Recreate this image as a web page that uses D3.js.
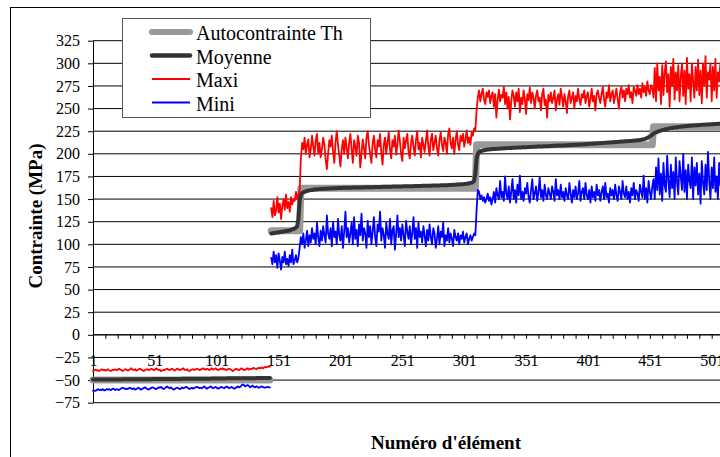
<!DOCTYPE html>
<html><head><meta charset="utf-8">
<script src="https://cdn.jsdelivr.net/npm/d3@7"></script>
<style>
html,body{margin:0;padding:0;background:#fff;overflow:hidden}
svg{display:block}
svg text{font-family:"Liberation Serif","Times New Roman",Times,serif !important;fill:#000}
</style></head><body>
<svg id="chart" width="720" height="457"></svg>
<script>
// ---------- DATA ----------
const yTicks = [-75,-50,-25,0,25,50,75,100,125,150,175,200,225,250,275,300,325];
const xTickLabels = [1,51,101,151,201,251,301,351,401,451,501];
const seriesNames = ["Autocontrainte Th","Moyenne","Maxi","Mini"];
const xTitle = "Numéro d'élément";
const yTitle = "Contrainte (MPa)";
const negStart = 1;    // first element of the negative (left) zone
const posStart = 145;  // first element of the positive (right) zone

const thNeg = [
-50,-50,-50,-50,-50,-50,-50,-50,-50,-50,-50,-50,-50,-50,-50,-50,-50,-50,-50,-50,-50,-50,-50,-50,
-50,-50,-50,-50,-50,-50,-50,-50,-50,-50,-50,-50,-50,-50,-50,-50,-50,-50,-50,-50,-50,-50,-50,-50,
-50,-50,-50,-50,-50,-50,-50,-50,-50,-50,-50,-50,-50,-50,-50,-50,-50,-50,-50,-50,-50,-50,-50,-50,
-50,-50,-50,-50,-50,-50,-50,-50,-50,-50,-50,-50,-50,-50,-50,-50,-50,-50,-50,-50,-50,-50,-50,-50,
-50,-50,-50,-50,-50,-50,-50,-50,-50,-50,-50,-50,-50,-50,-50,-50,-50,-50,-50,-50,-50,-50,-50,-50,
-50,-50,-50,-50,-50,-50,-50,-50,-50,-50,-50,-50,-50,-50,-50,-50,-50,-50,-50,-50,-50,-50,-50,-50];

const moyNeg = [
-49.5,-49.5,-49.5,-49.5,-49.5,-49.5,-49.5,-49.5,-49.5,-49.5,-49.5,-49.5,
-49.3,-49.3,-49.3,-49.3,-49.3,-49.3,-49.3,-49.3,-49.3,-49.3,-49.3,-49.3,
-49.2,-49.2,-49.2,-49.2,-49.2,-49.2,-49.2,-49.2,-49.2,-49.2,-49.2,-49.2,
-49.0,-49.0,-49.0,-49.0,-49.0,-49.0,-49.0,-49.0,-49.0,-49.0,-49.0,-49.0,
-48.9,-48.9,-48.9,-48.9,-48.9,-48.9,-48.9,-48.9,-48.9,-48.9,-48.9,-48.9,
-48.7,-48.7,-48.7,-48.7,-48.7,-48.7,-48.7,-48.7,-48.7,-48.7,-48.7,-48.7,
-48.6,-48.6,-48.6,-48.6,-48.6,-48.6,-48.6,-48.6,-48.6,-48.6,-48.6,-48.6,
-48.4,-48.4,-48.4,-48.4,-48.4,-48.4,-48.4,-48.4,-48.4,-48.4,-48.4,-48.4,
-48.3,-48.3,-48.3,-48.3,-48.3,-48.3,-48.3,-48.3,-48.3,-48.3,-48.3,-48.3,
-48.1,-48.1,-48.1,-48.1,-48.1,-48.1,-48.1,-48.1,-48.1,-48.1,-48.1,-48.1,
-47.9,-47.9,-47.9,-47.9,-47.9,-47.9,-47.9,-47.9,-47.9,-47.9,-47.9,-47.9,
-47.7,-47.7,-47.7,-47.7,-47.7,-47.7,-47.7,-47.7,-47.7,-47.7,-47.7,-47.7];

const maxiNeg = [
-40,-39,-38.5,-39.5,-39,-40,-39,-38,-39,-38.5,-39.5,-39,
-38,-39,-40,-39.5,-38.5,-39,-38,-39,-38.5,-37.5,-38.5,-39,
-40,-39,-38,-38.5,-39.5,-39,-38,-37,-38.5,-39,-38,-39.5,
-39,-38,-37.5,-38.5,-39,-40,-39,-38.5,-38,-39,-38.5,-37.5,
-38,-39,-38.5,-37,-38,-39,-38.5,-40,-39.5,-38.5,-39,-38,
-37.5,-38.5,-39,-38,-37.5,-38.5,-39.5,-38.5,-37.5,-38,-39,-38.5,
-38,-37,-38.5,-39,-38,-39.5,-40,-39,-38.5,-38,-39,-38,
-37.5,-38,-39,-38.5,-37.5,-37,-38,-38.5,-37.5,-38,-39,-38,
-37,-38.5,-38,-37,-38,-39,-38.5,-37.5,-38,-37,-38.5,-38,
-39,-38,-37.5,-38,-39,-40,-39,-38,-37.5,-38.5,-39,-38,
-37,-38,-39,-38.5,-38,-37,-38.5,-37.5,-38,-37,-36.5,-37.5,
-38,-37,-36.5,-37,-36,-37,-36.5,-35.5,-36,-35.5,-35,-35];

const miniNeg = [
-62,-61.5,-62,-61,-60,-61,-60.5,-61,-60,-61.5,-61,-60,
-60.5,-60,-61,-60.5,-59.5,-60,-61,-60,-60.5,-61,-60,-59,
-58.5,-59,-60,-59.5,-60,-59,-58.5,-59.5,-60,-59,-60.5,-60,
-59,-58.5,-60,-60.5,-59.5,-59,-58,-59,-60,-60.5,-59.5,-59,
-58,-58.5,-59.5,-60,-59,-58,-58.5,-57.5,-59,-60,-59,-58,
-57,-58.5,-59,-58,-59.5,-60.5,-60,-59,-58.5,-59,-60,-59.5,
-58,-59,-58.5,-57.5,-58,-59,-60,-59,-58.5,-59.5,-58.5,-58,
-57.5,-58,-59,-58.5,-59,-58,-57,-58.5,-59.5,-58.5,-58,-57,
-58,-59,-58.5,-57.5,-58.5,-59.5,-59,-58,-57.5,-58.5,-59,-58,
-57,-58,-59,-58.5,-57.5,-58.5,-59.5,-59,-58,-57,-58,-57.5,
-56,-55,-55.5,-57,-56,-55.5,-56.5,-58,-57,-56,-57.5,-58,
-57,-57.5,-58.5,-58,-57,-57.5,-58,-58.5,-58,-57.5,-58,-58];

const thPos = [
115,115,115,115,115,115,115,115,115,115,115,115,115,115,115,115,115,115,115,115,115,115,115,115,
162,162,162,162,162,162,162,162,162,162,162,162,162,162,162,162,162,162,162,162,162,162,162,162,
162,162,162,162,162,162,162,162,162,162,162,162,162,162,162,162,162,162,162,162,162,162,162,162,
162,162,162,162,162,162,162,162,162,162,162,162,162,162,162,162,162,162,162,162,162,162,162,162,
162,162,162,162,162,162,162,162,162,162,162,162,162,162,162,162,162,162,162,162,162,162,162,162,
162,162,162,162,162,162,162,162,162,162,162,162,162,162,162,162,162,162,162,162,162,162,162,162,
162,162,162,162,162,162,162,162,162,162,162,162,162,162,162,162,162,162,162,162,162,162,
210,210,210,210,210,210,210,210,210,210,210,210,210,210,210,210,210,210,210,210,210,210,210,210,
210,210,210,210,210,210,210,210,210,210,210,210,210,210,210,210,210,210,210,210,210,210,210,210,
210,210,210,210,210,210,210,210,210,210,210,210,210,210,210,210,210,210,210,210,210,210,210,210,
210,210,210,210,210,210,210,210,210,210,210,210,210,210,210,210,210,210,210,210,210,210,210,210,
210,210,210,210,210,210,210,210,210,210,210,210,210,210,210,210,210,210,210,210,210,210,210,210,
210,210,210,210,210,210,210,210,210,210,210,210,210,210,210,210,210,210,210,210,210,210,210,
230,230,230,230,230,230,230,230,230,230,230,230,230,230,230,230,230,230,230,230,230,230,230,230,
230,230,230,230,230,230,230,230,230,230,230,230,230,230,230,230,230,230,230,230,230,230,230,230,
230,230,230,230,230,230,230,230,230,230,230];

const moyPos = [
112,112,112.5,112.5,113,113,113,113.5,113.5,114,114,114.5,114.5,115,115,115.5,116,116.5,117,117.5,118.5,120,128,148,
155,156.5,157.5,158,158.5,159,159.3,159.6,159.9,160.1,
160.3,160.5,160.7,160.8,160.9,161,161.1,161.2,161.3,161.4,161.5,161.5,161.6,161.7,161.8,161.8,161.9,162,162,162.1,
162.2,162.2,162.3,162.3,162.4,162.4,162.5,162.5,162.5,162.6,162.6,162.6,162.7,162.7,162.7,162.8,162.8,162.8,162.9,162.9,
162.9,163,163,163,163.1,163.1,163.1,163.2,163.2,163.2,163.3,163.3,163.3,163.4,163.4,163.4,163.5,163.5,163.5,163.6,
163.6,163.7,163.7,163.7,163.8,163.8,163.8,163.9,163.9,163.9,164,164,164,164.1,164.1,164.1,164.2,164.2,164.2,164.3,
164.3,164.3,164.4,164.4,164.4,164.5,164.5,164.5,164.6,164.6,164.6,164.7,164.7,164.7,164.8,164.8,164.9,164.9,165,165,
165,165.1,165.1,165.2,165.2,165.3,165.3,165.4,165.4,165.5,165.5,165.6,165.6,165.7,165.8,165.9,166,166.1,166.2,166.3,
166.4,166.5,166.6,166.8,167,167.2,167.5,167.8,168.2,168.8,170,178,
195,200,202,202.8,203.3,203.7,204,204.3,204.5,204.7,
204.9,205,205.1,205.2,205.3,205.4,205.5,205.6,205.7,205.8,205.9,206,206.1,206.1,206.2,206.3,206.4,206.4,206.5,206.6,
206.7,206.7,206.8,206.9,207,207,207.1,207.2,207.2,207.3,207.4,207.4,207.5,207.6,207.6,207.7,207.8,207.8,207.9,208,
208,208.1,208.1,208.2,208.3,208.3,208.4,208.5,208.5,208.6,208.7,208.7,208.8,208.9,208.9,209,209.1,209.1,209.2,209.3,
209.3,209.4,209.5,209.5,209.6,209.7,209.7,209.8,209.9,209.9,210,210.1,210.1,210.2,210.3,210.3,210.4,210.5,210.5,210.6,
210.8,210.9,211,211.1,211.2,211.3,211.4,211.5,211.6,211.7,211.8,211.9,212,212.1,212.2,212.3,212.4,212.5,212.6,212.7,
212.8,212.9,213,213.1,213.2,213.3,213.4,213.5,213.6,213.7,213.8,213.9,214,214.1,214.2,214.3,214.4,214.5,214.6,214.7,
214.9,215.1,215.3,215.5,215.8,216.1,216.5,217,217.6,218.3,219.2,220.2,221.2,
222.2,223,223.7,224.3,224.8,225.3,225.7,226.1,226.5,226.9,227.2,227.5,227.8,228.1,228.4,228.6,228.8,229,229.2,229.4,
229.6,229.8,230,230.1,230.3,230.4,230.6,230.7,230.8,231,231.1,231.2,231.3,231.4,231.5,231.6,231.7,231.8,231.9,232,
232.1,232.2,232.3,232.4,232.5,232.5,232.6,232.7,232.8,232.9,232.9,233,233.1,233.2,233.2,233.3,233.4,233.4,233.5];

const maxiPos = [
140,130,148,132,138,152,135,145,128,142,150,138,155,140,147,136,152,144,150,148,158,150,155,160,
195,212,205,218,200,210,216,196,205,220,
208,198,215,222,200,212,196,205,218,210,
194,183,200,215,208,220,202,190,213,225,
210,198,186,205,215,200,218,207,195,212,
222,205,190,215,208,198,220,212,185,200,
216,206,195,218,225,210,200,190,212,220,
205,196,215,208,222,201,188,210,218,200,
212,224,205,195,215,208,220,199,210,226,
214,200,192,218,206,215,222,202,195,212,
220,208,198,215,225,205,212,196,218,210,
202,214,226,208,198,216,222,204,212,220,
206,198,215,224,210,203,218,212,200,222,
228,212,206,218,200,215,225,210,204,220,
214,222,208,216,226,212,218,210,224,220,
228,226,
248,262,270,258,266,272,260,255,268,263,
270,256,264,268,252,266,240,260,271,258,
265,262,274,255,268,250,263,238,258,270,
264,252,268,258,272,246,262,255,270,260,
244,266,259,273,256,268,262,250,264,270,
258,262,248,266,272,254,260,240,265,258,
268,256,262,270,248,260,266,254,272,262,
252,266,258,245,264,270,256,262,268,250,
264,258,272,260,254,266,262,270,256,264,
268,252,260,272,258,264,248,266,270,262,
256,266,274,260,252,268,262,276,258,266,
270,256,264,272,260,250,268,274,262,270,
258,272,266,276,262,268,256,274,270,264,
276,266,272,262,278,268,274,264,280,270,
266,276,272,
262,295,258,300,270,285,255,298,265,290,
302,268,288,252,296,275,305,260,290,270,
298,258,285,300,264,292,255,306,272,288,
258,300,280,262,296,270,304,265,292,256,
300,275,308,262,290,282,300,258,296,270,
305,262,290,280,300,258,300,272,285];

const miniPos = [
85,78,92,80,88,74,90,82,72,86,80,92,78,84,76,88,80,94,78,82,88,80,85,96,
108,100,112,96,104,115,98,110,102,118,
106,112,100,124,108,98,115,104,120,110,
102,132,112,106,118,98,125,108,114,100,
128,110,104,120,96,114,136,108,118,102,
112,124,100,130,106,116,98,122,110,134,
104,118,112,96,126,108,120,100,114,130,
108,98,122,114,136,104,118,110,96,124,
112,106,128,100,116,120,94,112,132,108,
118,104,122,110,98,126,114,106,120,100,
112,130,106,118,96,124,108,114,102,120,
110,98,116,104,122,108,100,118,112,96,
106,120,100,114,108,124,98,110,104,118,
102,112,106,98,116,108,104,112,100,110,
106,114,102,108,112,100,106,110,104,108,
112,110,
138,160,158,150,154,148,152,146,150,156,
148,152,144,150,158,146,162,154,150,170,
152,158,148,175,156,150,164,146,158,172,
150,160,146,166,154,176,150,158,148,162,
156,168,152,146,160,172,150,156,164,148,
158,174,152,160,148,166,154,150,162,156,
150,164,158,148,172,154,160,150,166,152,
158,148,162,154,150,168,156,146,160,152,
164,150,156,170,148,158,162,150,168,154,
150,160,146,164,152,158,148,166,154,160,
148,158,164,150,168,152,156,146,162,154,
160,150,166,154,148,164,158,150,170,156,
152,164,150,158,146,162,154,168,150,160,
156,148,166,158,152,176,150,162,146,170,
158,150,164,
172,150,185,160,195,155,178,148,190,165,
158,198,170,152,188,162,180,150,196,168,
155,192,175,160,200,158,182,150,188,170,
162,196,150,185,165,190,155,178,145,192,
168,155,188,160,202,170,150,185,162,196,
158,175,150,190,165,200,172,155,188];

// ---------- CHART ----------
const FONT = '"Liberation Serif","Times New Roman",Times,serif';
const svg = d3.select("#chart");
const x = d3.scaleLinear().domain([1, 501]).range([93, 711.7]);
const y = d3.scaleLinear().domain([-75, 325]).range([402.7, 40.7]);
const plotRight = 760;

// chart border
svg.append("rect").attr("x", 10.5).attr("y", 7.5).attr("width", 900).attr("height", 600)
  .attr("fill", "#fff").attr("stroke", "#000").attr("stroke-width", 1);

// gridlines
svg.append("g").selectAll("line").data(yTicks).join("line")
  .attr("x1", x(1)).attr("x2", plotRight)
  .attr("y1", d => y(d)).attr("y2", d => y(d))
  .attr("stroke", "#000").attr("stroke-width", 1);

// y axis
const yAxis = svg.append("g").attr("transform", `translate(${x(1)},0)`)
  .call(d3.axisLeft(y).tickValues(yTicks).tickSize(5).tickSizeOuter(0).tickPadding(8));
yAxis.attr("font-family", FONT).attr("font-size", 16);
yAxis.select(".domain").attr("stroke", "#000");
yAxis.selectAll(".tick line").attr("stroke", "#000");
yAxis.selectAll("text").style("font-family", FONT).style("font-size", "16px");

// x axis at y = 0
const xTickVals = d3.range(1, 520, 10);
const xAxis = svg.append("g").attr("transform", `translate(0,${y(0)})`)
  .call(d3.axisBottom(x).tickValues(xTickVals).tickSize(4).tickSizeOuter(0).tickPadding(16)
    .tickFormat(d => xTickLabels.includes(d) ? String(d) : ""));
xAxis.attr("font-family", FONT).attr("font-size", 16);
xAxis.select(".domain").attr("d", `M${x(1)},0H${plotRight}`).attr("stroke", "#000");
xAxis.selectAll(".tick line").attr("stroke", "#000");
xAxis.selectAll("text").style("font-family", FONT).style("font-size", "16px");

// series
const pts = (arr, start) => arr.map((v, i) => ({ i: start + i, v }));
const line = d3.line().x(d => x(d.i)).y(d => y(d.v));
const styles = [
  { name: seriesNames[0], color: "#999999", width: 7, segs: [pts(thNeg, negStart), pts(thPos, posStart)] },
  { name: seriesNames[1], color: "#333333", width: 4, segs: [pts(moyNeg, negStart), pts(moyPos, posStart)] },
  { name: seriesNames[2], color: "#ff0000", width: 1.8, segs: [pts(maxiNeg, negStart), pts(maxiPos, posStart)] },
  { name: seriesNames[3], color: "#0000ff", width: 1.8, segs: [pts(miniNeg, negStart), pts(miniPos, posStart)] }
];
styles.forEach(s => {
  s.segs.forEach(seg => {
    svg.append("path").attr("d", line(seg)).attr("fill", "none")
      .attr("stroke", s.color).attr("stroke-width", s.width)
      .attr("stroke-linejoin", "round").attr("stroke-linecap", "round");
  });
});

// axis titles
svg.append("text").attr("x", 446).attr("y", 449).attr("text-anchor", "middle")
  .style("font-family", FONT).style("font-size", "19px").style("font-weight", "bold").text(xTitle);
svg.append("text").attr("transform", "translate(42,216) rotate(-90)").attr("text-anchor", "middle")
  .style("font-family", FONT).style("font-size", "19px").style("font-weight", "bold").text(yTitle);

// legend
const lg = svg.append("g");
lg.append("rect").attr("x", 122.5).attr("y", 18.5).attr("width", 248).attr("height", 99)
  .attr("fill", "#fff").attr("stroke", "#555").attr("stroke-width", 1);
styles.forEach((s, k) => {
  const by = 40 + k * 23.5;
  lg.append("line").attr("x1", 152).attr("x2", 190).attr("y1", by - 8).attr("y2", by - 8)
    .attr("stroke", s.color).attr("stroke-width", k === 0 ? 6 : (k === 1 ? 4.5 : 1.8))
    .attr("stroke-linecap", k < 2 ? "round" : "butt");
  lg.append("text").attr("x", 196).attr("y", by)
    .style("font-family", FONT).style("font-size", "20px").text(s.name);
});
</script>
</body></html>
